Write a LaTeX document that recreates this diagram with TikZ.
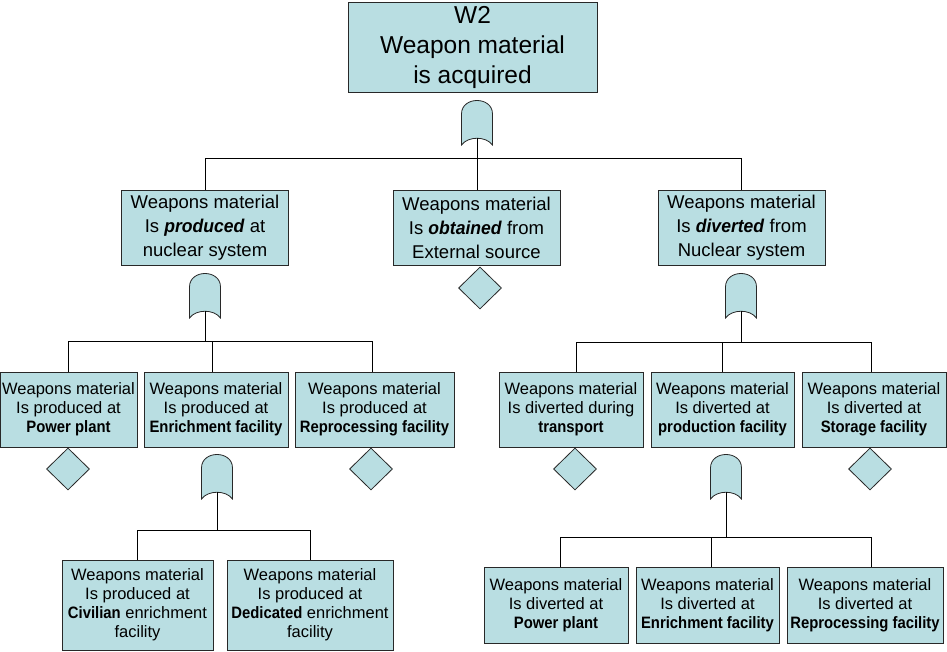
\documentclass[tikz,border=0pt]{standalone}
\usepackage{fontspec}
\setmainfont{Liberation Sans}[BoldFeatures={FakeStretch=0.9},BoldItalicFeatures={FakeStretch=0.95}]
\usetikzlibrary{shapes.geometric,calc}
\definecolor{boxfill}{RGB}{185,222,226}
\definecolor{edge}{RGB}{40,40,40}
\tikzset{
  box/.style={draw=edge, fill=boxfill, line width=0.8pt, align=center, inner sep=0pt, anchor=center},
  topbox/.style={box, minimum width=249pt, minimum height=90pt, font=\fontsize{24.5}{30}\selectfont},
  lvone/.style={box, minimum width=167pt, minimum height=75pt, font=\fontsize{18.5}{24}\selectfont},
  lvtwo/.style={box, minimum height=75pt, font=\fontsize{16.5}{19}\selectfont},
  lvthree/.style={box, font=\fontsize{16.5}{19}\selectfont},
  dia/.style={diamond, draw=edge, fill=boxfill, line width=0.8pt, inner sep=0pt, minimum width=43pt, minimum height=42pt},
  gatestyle/.style={draw=edge, fill=boxfill, line width=0.8pt},
  conn/.style={draw=black, line width=0.8pt},
  orgate/.pic={
    \path[gatestyle] (-15.5,45) -- (-15.5,14) .. controls (-15.5,-4) and (15.5,-4) .. (15.5,14) -- (15.5,45) .. controls (9,36) and (-9,36) .. (-15.5,45) -- cycle;
    \coordinate (-in) at (0,0);
    \coordinate (-out) at (0,38);
  }
}
\begin{document}
\begin{tikzpicture}[x=1pt,y=-1pt]
\useasboundingbox (0,0) rectangle (947,652);
% top event
\node[topbox] (top) at (472.5,47) {W2\\Weapon material\\is acquired};
\pic (g0) at (477,100) {orgate};
% level 1
\node[lvone] (L1a) at (205,227.5) {Weapons material\\Is \textbf{\textit{produced}} at\\nuclear system};
\node[lvone] (L1b) at (476.5,227.5) {Weapons material\\Is \textbf{\textit{obtained}} from\\External source};
\node[lvone] (L1c) at (741.5,227.5) {Weapons material\\Is \textbf{\textit{diverted}} from\\Nuclear system};
\node[dia] (d0) at (480,288) {};
\pic (g1) at (205,273) {orgate};
\pic (g2) at (741,273) {orgate};
% level 2 left
\node[lvtwo, minimum width=137pt] (L2a) at (68.5,409.5) {Weapons material\\Is produced at\\\textbf{Power plant}};
\node[lvtwo, minimum width=144pt] (L2b) at (216,409.5) {Weapons material\\Is produced at\\\textbf{Enrichment facility}};
\node[lvtwo, minimum width=159pt] (L2c) at (374.5,409.5) {Weapons material\\Is produced at\\\textbf{Reprocessing facility}};
\node[dia] (d1) at (68,469) {};
\node[dia] (d2) at (371,469) {};
\pic (g3) at (217,454) {orgate};
% level 2 right
\node[lvtwo, minimum width=144pt] (R2a) at (571,409.5) {Weapons material\\Is diverted during\\\textbf{transport}};
\node[lvtwo, minimum width=143pt] (R2b) at (722.5,409.5) {Weapons material\\Is diverted at\\\textbf{production facility}};
\node[lvtwo, minimum width=144pt] (R2c) at (874,409.5) {Weapons material\\Is diverted at\\\textbf{Storage facility}};
\node[dia] (d3) at (575,469) {};
\node[dia] (d4) at (870,469) {};
\pic (g4) at (726,454) {orgate};
% level 3 left
\node[lvthree, minimum width=151pt, minimum height=90pt] (L3a) at (137.5,605) {Weapons material\\Is produced at\\\textbf{Civilian} enrichment\\facility};
\node[lvthree, minimum width=166pt, minimum height=90pt] (L3b) at (310,605) {Weapons material\\Is produced at\\\textbf{Dedicated} enrichment\\facility};
% level 3 right
\node[lvthree, minimum width=144pt, minimum height=76pt] (R3a) at (556,605) {Weapons material\\Is diverted at\\\textbf{Power plant}};
\node[lvthree, minimum width=143pt, minimum height=76pt] (R3b) at (707.5,605) {Weapons material\\Is diverted at\\\textbf{Enrichment facility}};
\node[lvthree, minimum width=156pt, minimum height=76pt] (R3c) at (865,605) {Weapons material\\Is diverted at\\\textbf{Reprocessing facility}};
% junctions
\coordinate (j0) at (477,158);
\coordinate (j1) at (205,341);
\coordinate (j2) at (741,342);
\coordinate (j3) at (217,530);
\coordinate (j4) at (726,537);
% connectors
\draw[conn] (g0-out) -- (j0);
\draw[conn] (j0) -| (L1a.north);
\draw[conn] (j0) -- (j0 |- L1b.north);
\draw[conn] (j0) -| (L1c.north);
\draw[conn] (g1-out) -- (j1);
\draw[conn] (j1) -| (L2a.north);
\draw[conn] (j1) -| ([xshift=-4pt]L2b.north);
\draw[conn] (j1) -| ([xshift=-2.5pt]L2c.north);
\draw[conn] (g2-out) -- (j2);
\draw[conn] (j2) -| ([xshift=5pt]R2a.north);
\draw[conn] (j2) -| (R2b.north);
\draw[conn] (j2) -| ([xshift=-3pt]R2c.north);
\draw[conn] (g3-out) -- (j3);
\draw[conn] (j3) -| (L3a.north);
\draw[conn] (j3) -| (L3b.north);
\draw[conn] (g4-out) -- (j4);
\draw[conn] (j4) -| ([xshift=4pt]R3a.north);
\draw[conn] (j4) -| ([xshift=3.5pt]R3b.north);
\draw[conn] (j4) -| ([xshift=6pt]R3c.north);
\end{tikzpicture}
\end{document}
